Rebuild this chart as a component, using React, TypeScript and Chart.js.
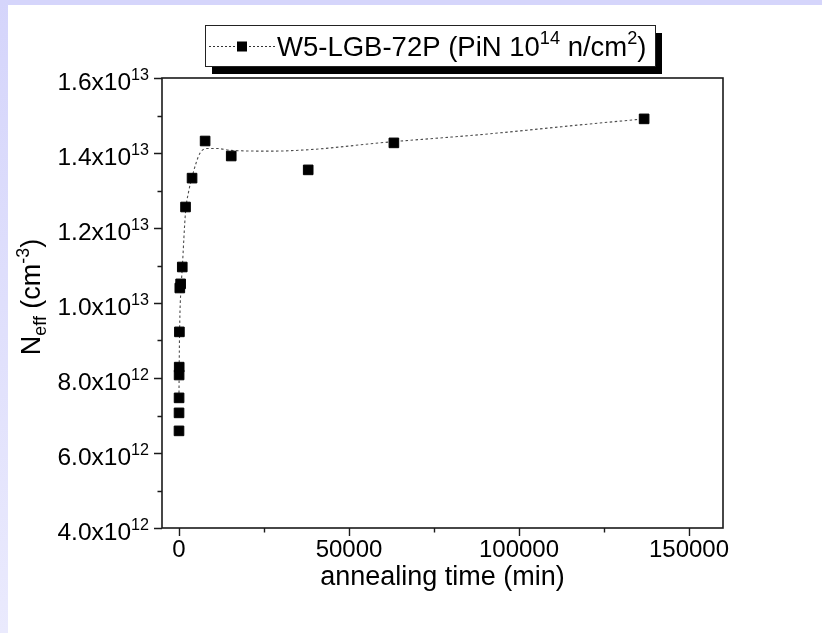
import { useEffect, useRef } from "react";
import { Chart, registerables } from "chart.js";

Chart.register(...registerables);

const W = 822;
const H = 633;
const FONT = '"Liberation Sans", Arial, Helvetica, sans-serif';

// Measured annealing series (time in minutes, N_eff in cm^-3)
const annealTime = [0, 10, 20, 30, 60, 120, 240, 480, 960, 1920, 3840, 7680, 15360, 38000, 63200, 136800];
const nEff = [
  6.59e12, 7.07e12, 7.47e12, 8.08e12, 8.29e12, 9.23e12, 1.04e13, 1.051e13,
  1.096e13, 1.256e13, 1.333e13, 1.432e13, 1.392e13, 1.355e13, 1.427e13, 1.491e13,
];

// Smoothed trend through the series
const fitTime = [0, 60, 150, 300, 600, 1000, 1900, 2900, 3800, 6200, 8500, 11200, 15300, 27000, 40000, 59000, 90000, 118000, 136800];
const fitNeff = [
  7.6e12, 8.3e12, 9.1e12, 9.8e12, 1.04e13, 1.1e13, 1.24e13, 1.3e13, 1.335e13, 1.4e13,
  1.412e13, 1.412e13, 1.407e13, 1.405e13, 1.41e13, 1.427e13, 1.45e13, 1.475e13, 1.491e13,
];

// Axis ticks and labels
const xMajor = [0, 50000, 100000, 150000];
const xMinor = [25000, 75000, 125000];
const xLabels = ["0", "50000", "100000", "150000"];
const yMajor = [4e12, 6e12, 8e12, 1e13, 1.2e13, 1.4e13, 1.6e13];
const yMinor = [5e12, 7e12, 9e12, 1.1e13, 1.3e13, 1.5e13];
const yMantissa = ["4.0x10", "6.0x10", "8.0x10", "1.0x10", "1.2x10", "1.4x10", "1.6x10"];
const yExponent = ["12", "12", "12", "13", "13", "13", "13"];

const xTitle = "annealing time (min)";
type Run = { t: string; k?: "sup" | "sub" };
const yTitle: Run[] = [{ t: "N" }, { t: "eff", k: "sub" }, { t: " (cm" }, { t: "-3", k: "sup" }, { t: ")" }];
const seriesName: Run[] = [
  { t: "W5-LGB-72P (PiN 10" },
  { t: "14", k: "sup" },
  { t: " n/cm" },
  { t: "2", k: "sup" },
  { t: ")" },
];

const TICK_SIZE = 24;
const YTICK_SIZE = 24.5;
const TITLE_SIZE = 27;
const LEGEND_SIZE = 27.5;

function runSize(r: Run, size: number) {
  return r.k ? size * 0.66 : size;
}

function runsWidth(ctx: CanvasRenderingContext2D, runs: Run[], size: number) {
  let w = 0;
  for (const r of runs) {
    ctx.font = `${runSize(r, size)}px ${FONT}`;
    w += ctx.measureText(r.t).width;
  }
  return w;
}

function drawRuns(
  ctx: CanvasRenderingContext2D,
  runs: Run[],
  x: number,
  baseline: number,
  size: number,
  align: "left" | "right" | "center",
) {
  const w = runsWidth(ctx, runs, size);
  let cx = align === "left" ? x : align === "right" ? x - w : x - w / 2;
  ctx.textAlign = "left";
  ctx.textBaseline = "alphabetic";
  for (const r of runs) {
    const s = runSize(r, size);
    ctx.font = `${s}px ${FONT}`;
    const dy = r.k === "sup" ? -size * 0.42 : r.k === "sub" ? size * 0.22 : 0;
    ctx.fillText(r.t, cx, baseline + dy);
    cx += ctx.measureText(r.t).width;
  }
}

const framePlugin = {
  id: "frame",
  beforeDraw(chart: Chart) {
    const ctx = chart.ctx;
    ctx.save();
    ctx.fillStyle = "#ffffff";
    ctx.fillRect(0, 0, W, H);
    ctx.fillStyle = "#d5d5fb";
    ctx.fillRect(0, 0, W, 5);
    const g = ctx.createLinearGradient(0, 0, 0, H);
    g.addColorStop(0, "#d5d5fb");
    g.addColorStop(1, "#eaeafd");
    ctx.fillStyle = g;
    ctx.fillRect(0, 0, 8, H);
    ctx.restore();
  },
  afterDraw(chart: Chart) {
    const ctx = chart.ctx;
    const xs = chart.scales.x;
    const ys = chart.scales.y;
    const { left, right, top, bottom } = chart.chartArea;
    ctx.save();

    // plot frame
    ctx.strokeStyle = "#1a1a1a";
    ctx.lineWidth = 1.6;
    ctx.strokeRect(left, top, right - left, bottom - top);

    // ticks
    ctx.lineWidth = 1.4;
    ctx.beginPath();
    for (const v of xMajor) {
      const p = Math.round(xs.getPixelForValue(v)) + 0.5;
      ctx.moveTo(p, bottom);
      ctx.lineTo(p, bottom + 8);
    }
    for (const v of xMinor) {
      const p = Math.round(xs.getPixelForValue(v)) + 0.5;
      ctx.moveTo(p, bottom);
      ctx.lineTo(p, bottom + 4.5);
    }
    for (const v of yMajor) {
      const p = Math.round(ys.getPixelForValue(v)) + 0.5;
      ctx.moveTo(left, p);
      ctx.lineTo(left - 8, p);
    }
    for (const v of yMinor) {
      const p = Math.round(ys.getPixelForValue(v)) + 0.5;
      ctx.moveTo(left, p);
      ctx.lineTo(left - 4.5, p);
    }
    ctx.stroke();

    // tick labels
    ctx.fillStyle = "#000000";
    xMajor.forEach((v, i) => {
      drawRuns(ctx, [{ t: xLabels[i] }], xs.getPixelForValue(v), bottom + 29, TICK_SIZE, "center");
    });
    yMajor.forEach((v, i) => {
      const p = ys.getPixelForValue(v);
      drawRuns(
        ctx,
        [{ t: yMantissa[i] }, { t: yExponent[i], k: "sup" }],
        left - 13,
        p + YTICK_SIZE * 0.36 + 3,
        YTICK_SIZE,
        "right",
      );
    });

    // axis titles
    drawRuns(ctx, [{ t: xTitle }], (left + right) / 2, bottom + 57, TITLE_SIZE, "center");
    ctx.save();
    ctx.translate(40, (top + bottom) / 2 - 6);
    ctx.rotate(-Math.PI / 2);
    drawRuns(ctx, yTitle, 0, 0, TITLE_SIZE, "center");
    ctx.restore();

    // legend box with drop shadow
    const bx = 205, by = 25, bw = 450, bh = 41;
    ctx.fillStyle = "#000000";
    ctx.fillRect(bx + 7, by + 8, bw, bh);
    ctx.fillStyle = "#ffffff";
    ctx.fillRect(bx, by, bw, bh);
    ctx.strokeStyle = "#222222";
    ctx.lineWidth = 1;
    ctx.strokeRect(bx + 0.5, by + 0.5, bw, bh);
    const ly = by + 21;
    ctx.strokeStyle = "#333333";
    ctx.setLineDash([2, 2]);
    ctx.beginPath();
    ctx.moveTo(bx + 4, ly + 0.5);
    ctx.lineTo(bx + 70, ly + 0.5);
    ctx.stroke();
    ctx.setLineDash([]);
    ctx.fillStyle = "#000000";
    ctx.fillRect(bx + 32, ly - 4.5, 10, 10);
    drawRuns(ctx, seriesName, bx + 72, ly + 10, LEGEND_SIZE, "left");

    ctx.restore();
  },
};

export default function App() {
  const ref = useRef<HTMLCanvasElement | null>(null);

  useEffect(() => {
    const canvas = ref.current;
    if (!canvas) return;
    const chart = new Chart(canvas, {
      type: "scatter",
      data: {
        datasets: [
          {
            label: "trend",
            data: fitTime.map((x, i) => ({ x, y: fitNeff[i] })),
            showLine: true,
            borderColor: "#4d4d4d",
            borderWidth: 1.1,
            borderDash: [2.5, 2.5],
            pointRadius: 0,
            cubicInterpolationMode: "monotone",
            fill: false,
            order: 2,
          },
          {
            label: "W5-LGB-72P (PiN 10^14 n/cm^2)",
            data: annealTime.map((x, i) => ({ x, y: nEff[i] })),
            showLine: false,
            pointStyle: "rect",
            pointRadius: 6.8,
            backgroundColor: "#000000",
            borderColor: "#000000",
            borderWidth: 1,
            order: 1,
          },
        ],
      },
      options: {
        animation: false,
        responsive: false,
        maintainAspectRatio: false,
        layout: { padding: { left: 162, top: 78, right: W - 723, bottom: H - 528 } },
        plugins: { legend: { display: false }, tooltip: { enabled: false } },
        scales: {
          x: { type: "linear", min: -5000, max: 160000, display: false },
          y: { type: "linear", min: 4e12, max: 1.6e13, display: false },
        },
      },
      plugins: [framePlugin],
    });
    return () => chart.destroy();
  }, []);

  return (
    <div style={{ position: "fixed", left: 0, top: 0, width: W, height: H }}>
      <canvas ref={ref} width={W} height={H} style={{ display: "block", width: W, height: H }} />
    </div>
  );
}
